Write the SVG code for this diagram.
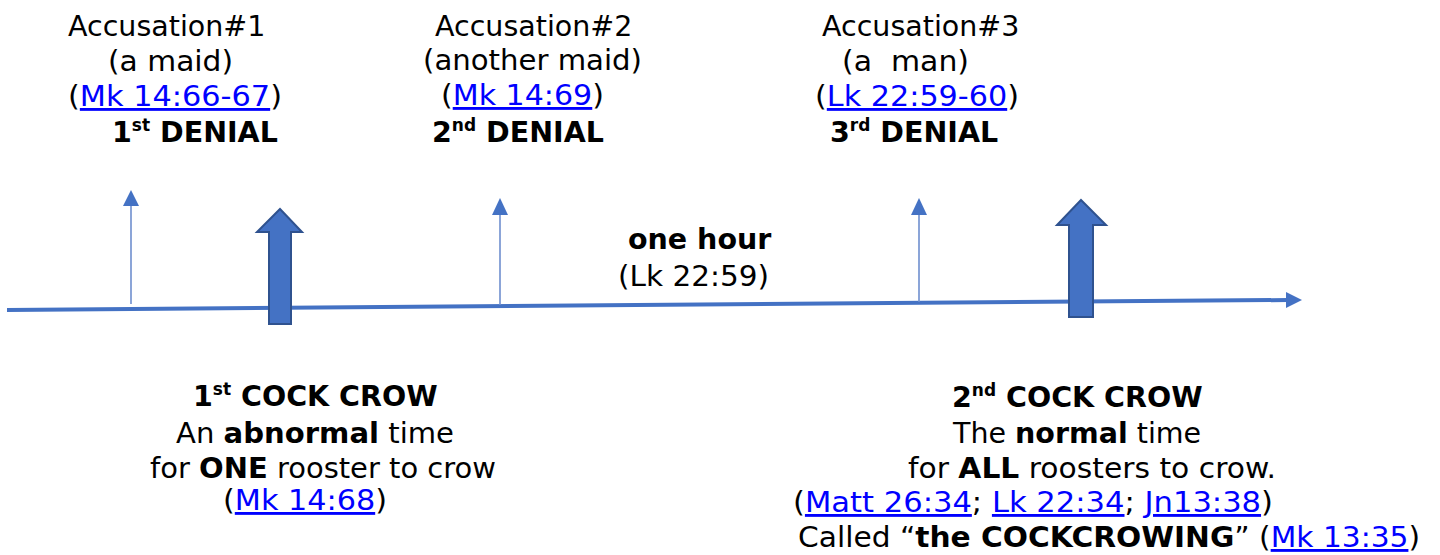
<svg xmlns="http://www.w3.org/2000/svg" width="1440" height="555" viewBox="0 0 1440 555">
<style>
text{font-family:"DejaVu Sans",Verdana,sans-serif;font-size:28.5px;fill:#000;white-space:pre}
.b{font-weight:bold}
.l{fill:#0000ff;text-decoration:underline}
.sup{font-size:17px}
.thin{stroke:#6f8fcf;stroke-width:1.6;fill:none}
.head{fill:#4472c4}
.big{fill:#4472c4;stroke:#2f528f;stroke-width:2}
</style>
<g id="connectors">
<line x1="7" y1="310" x2="1288" y2="300" stroke="#4472c4" stroke-width="4"/>
<polygon class="head" points="1302,300 1286,292 1286,308"/>
<line class="thin" x1="131" y1="304" x2="131" y2="204"/>
<polygon class="head" points="131,190 123,206 139,206"/>
<line class="thin" x1="500" y1="305" x2="500" y2="213"/>
<polygon class="head" points="500,198 492,215 508,215"/>
<line class="thin" x1="919" y1="302" x2="919" y2="213"/>
<polygon class="head" points="919,198 911,215 927,215"/>
</g>
<g id="crow1-arrow">
<polygon class="big" points="280,209 302,232 291,232 291,324 269,324 269,232 257,232"/>
</g>
<g id="crow2-arrow">
<polygon class="big" points="1081,200 1106,225 1093,225 1093,317 1069,317 1069,225 1057,225"/>
</g>
<g id="accusation1">
<text x="68" y="36">Accusation#1</text>
<text x="108" y="71" textLength="125" lengthAdjust="spacingAndGlyphs">(a maid)</text>
<text x="68" y="106" textLength="214" lengthAdjust="spacingAndGlyphs">(<tspan class="l">Mk 14:66-67</tspan>)</text>
<text x="112" y="142" class="b">1<tspan class="sup" dy="-11">st</tspan><tspan dy="11"> DENIAL</tspan></text>
</g>
<g id="accusation2">
<text x="435" y="36">Accusation#2</text>
<text x="423" y="70" textLength="219" lengthAdjust="spacingAndGlyphs">(another maid)</text>
<text x="441" y="105" textLength="163" lengthAdjust="spacingAndGlyphs">(<tspan class="l">Mk 14:69</tspan>)</text>
<text x="432" y="142" class="b">2<tspan class="sup" dy="-11">nd</tspan><tspan dy="11"> DENIAL</tspan></text>
</g>
<g id="accusation3">
<text x="822" y="36">Accusation#3</text>
<text x="842" y="71" textLength="127" lengthAdjust="spacingAndGlyphs">(a  man)</text>
<text x="815" y="106" textLength="204" lengthAdjust="spacingAndGlyphs">(<tspan class="l">Lk 22:59-60</tspan>)</text>
<text x="830" y="142" class="b">3<tspan class="sup" dy="-11">rd</tspan><tspan dy="11"> DENIAL</tspan></text>
</g>
<g id="one-hour">
<text x="628" y="249" class="b">one hour</text>
<text x="618" y="286" textLength="151" lengthAdjust="spacingAndGlyphs">(Lk 22:59)</text>
</g>
<g id="crow1">
<text x="193" y="406" class="b">1<tspan class="sup" dy="-11">st</tspan><tspan dy="11"> COCK CROW</tspan></text>
<text x="176" y="443" textLength="278" lengthAdjust="spacingAndGlyphs">An <tspan class="b">abnormal</tspan> time</text>
<text x="150" y="478" textLength="346" lengthAdjust="spacingAndGlyphs">for <tspan class="b">ONE</tspan> rooster to crow</text>
<text x="223" y="510" textLength="164" lengthAdjust="spacingAndGlyphs">(<tspan class="l">Mk 14:68</tspan>)</text>
</g>
<g id="crow2">
<text x="952" y="407" class="b">2<tspan class="sup" dy="-11">nd</tspan><tspan dy="11"> COCK CROW</tspan></text>
<text x="953" y="443">The <tspan class="b">normal</tspan> time</text>
<text x="908" y="478" textLength="368" lengthAdjust="spacingAndGlyphs">for <tspan class="b">ALL</tspan> roosters to crow.</text>
<text x="793" y="512" textLength="480" lengthAdjust="spacingAndGlyphs">(<tspan class="l">Matt 26:34</tspan>; <tspan class="l">Lk 22:34</tspan>; <tspan class="l">Jn13:38</tspan>)</text>
<text x="798" y="547" textLength="622" lengthAdjust="spacingAndGlyphs">Called “<tspan class="b">the COCKCROWING</tspan>” (<tspan class="l">Mk 13:35</tspan>)</text>
</g>
</svg>
